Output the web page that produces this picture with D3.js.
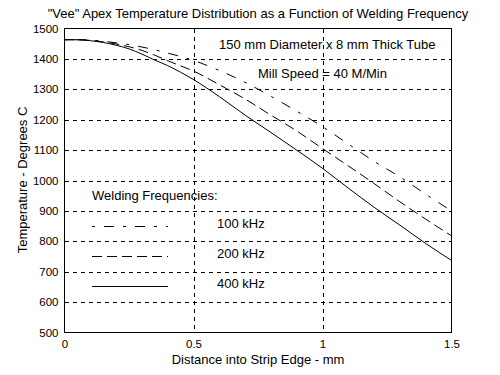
<!DOCTYPE html>
<html>
<head>
<meta charset="utf-8">
<script src="https://cdn.jsdelivr.net/npm/d3@7"></script>
<style>
  html, body { margin: 0; padding: 0; background: #fff; }
  svg { display: block; }
  text { font-family: Arial, "Liberation Sans", sans-serif; fill: #000; }
</style>
</head>
<body>
<svg id="chart" width="500" height="375"></svg>
<script>
// ---- data ----
const distance = [0, 0.05, 0.1, 0.15, 0.2, 0.25, 0.3, 0.35, 0.4, 0.45, 0.5, 0.6, 0.7, 0.8, 0.9, 1.0, 1.1, 1.2, 1.3, 1.4, 1.5];
const temp100 = [1463, 1463, 1462, 1458, 1453, 1447, 1439, 1430, 1419, 1408, 1395, 1362, 1323, 1277, 1228, 1177, 1120, 1063, 1012, 955, 900];
const temp200 = [1463, 1463, 1461, 1456, 1449, 1440, 1428, 1412, 1394, 1377, 1360, 1315, 1268, 1215, 1163, 1105, 1048, 990, 930, 873, 818];
const temp400 = [1463, 1463, 1460, 1454, 1445, 1433, 1416, 1396, 1378, 1356, 1332, 1276, 1215, 1158, 1100, 1040, 975, 912, 853, 793, 737];
const seriesNames = ["100 kHz", "200 kHz", "400 kHz"];
const yTicks = [500, 600, 700, 800, 900, 1000, 1100, 1200, 1300, 1400, 1500];
const xTicks = [0, 0.5, 1, 1.5];
const xTickLabels = ["0", "0.5", "1", "1.5"];
const titleText = "\"Vee\" Apex Temperature Distribution as a Function of Welding Frequency";
const xLabel = "Distance into Strip Edge - mm";
const yLabel = "Temperature - Degrees C";
const note1 = "150 mm Diameter x 8 mm Thick Tube";
const note2 = "Mill Speed = 40 M/Min";
const legendTitle = "Welding Frequencies:";

// ---- layout ----
const svg = d3.select("#chart");
svg.append("rect").attr("width", 500).attr("height", 375).attr("fill", "#fff");

const x = d3.scaleLinear().domain([0, 1.5]).range([64.5, 451.5]);
const y = d3.scaleLinear().domain([500, 1500]).range([332.5, 28.5]);

const series = [
  { name: seriesNames[0], values: temp100, dash: "3,9,10,9" },
  { name: seriesNames[1], values: temp200, dash: "10,5" },
  { name: seriesNames[2], values: temp400, dash: null }
];

// grid
const grid = svg.append("g").attr("stroke", "#000").attr("stroke-width", 1)
  .attr("stroke-dasharray", "4,4").attr("shape-rendering", "crispEdges");
grid.selectAll("line.h").data(yTicks.filter(d => d > 500 && d < 1500)).enter()
  .append("line").attr("class", "h")
  .attr("x1", x(0)).attr("x2", x(1.5))
  .attr("y1", d => Math.round(y(d)) + 0.5).attr("y2", d => Math.round(y(d)) + 0.5);
grid.selectAll("line.v").data(xTicks.filter(d => d > 0 && d < 1.5)).enter()
  .append("line").attr("class", "v")
  .attr("y1", y(1500)).attr("y2", y(500))
  .attr("x1", d => Math.round(x(d)) + 0.5).attr("x2", d => Math.round(x(d)) + 0.5);

// frame
svg.append("rect")
  .attr("x", x(0)).attr("y", y(1500))
  .attr("width", x(1.5) - x(0)).attr("height", y(500) - y(1500))
  .attr("fill", "none").attr("stroke", "#000").attr("stroke-width", 1)
  .attr("shape-rendering", "crispEdges");

// axes
const yAxis = svg.append("g").attr("transform", `translate(${x(0)},0)`)
  .call(d3.axisLeft(y).tickValues(yTicks).tickSize(0).tickPadding(6).tickFormat(d3.format("d")));
yAxis.select(".domain").remove();
yAxis.selectAll("text").style("font-size", "11.5px").style("font-family", "Arial, 'Liberation Sans', sans-serif");

const xAxis = svg.append("g").attr("transform", `translate(0,${y(500)})`)
  .call(d3.axisBottom(x).tickValues(xTicks).tickSize(0).tickPadding(7).tickFormat((d, i) => xTickLabels[i]));
xAxis.select(".domain").remove();
xAxis.selectAll("text").style("font-size", "11.5px").style("font-family", "Arial, 'Liberation Sans', sans-serif");

// curves
const line = d3.line().x((d, i) => x(distance[i])).y(d => y(d)).curve(d3.curveMonotoneX);
svg.append("g").selectAll("path").data(series).enter().append("path")
  .attr("d", d => line(d.values))
  .attr("fill", "none").attr("stroke", "#000").attr("stroke-width", 1)
  .attr("stroke-dasharray", d => d.dash);

// titles
svg.append("text").attr("x", 258).attr("y", 17.5).attr("text-anchor", "middle")
  .style("font-size", "13px").text(titleText);
svg.append("text").attr("x", 258).attr("y", 364).attr("text-anchor", "middle")
  .style("font-size", "13px").text(xLabel);
svg.append("text").attr("transform", "translate(27,180) rotate(-90)").attr("text-anchor", "middle")
  .style("font-size", "13px").text(yLabel);

// annotations
svg.append("text").attr("x", 219).attr("y", 49).style("font-size", "13px").text(note1);
svg.append("text").attr("x", 258).attr("y", 78).style("font-size", "13px").text(note2);
svg.append("text").attr("x", 92).attr("y", 199.5).style("font-size", "13px").text(legendTitle);

// legend
const legendY = [226.5, 256.5, 286.5];
const lg = svg.append("g").selectAll("g").data(series).enter().append("g");
lg.append("line").attr("x1", 92).attr("x2", 168)
  .attr("y1", (d, i) => legendY[i]).attr("y2", (d, i) => legendY[i])
  .attr("stroke", "#000").attr("stroke-width", 1).attr("stroke-dasharray", d => d.dash)
  .attr("shape-rendering", "crispEdges");
lg.append("text").attr("x", 217).attr("y", (d, i) => legendY[i] + 1.5)
  .style("font-size", "13px").text(d => d.name);
</script>
</body>
</html>
